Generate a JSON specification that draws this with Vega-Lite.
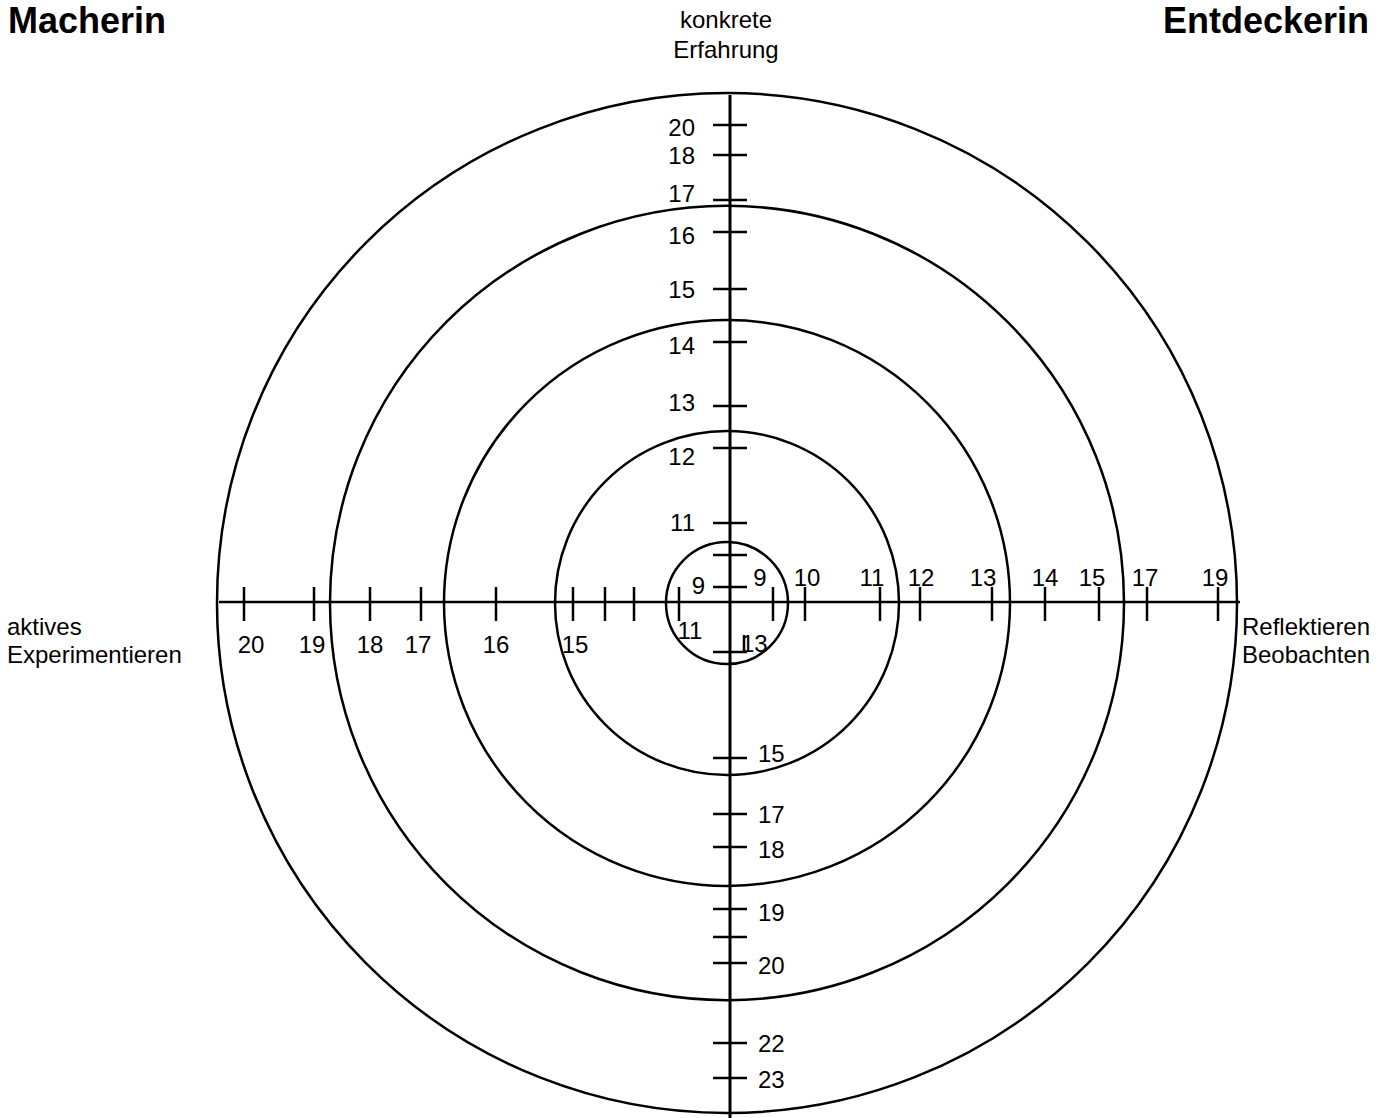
{
  "$schema": "https://vega.github.io/schema/vega-lite/v6.json",
  "width": 1388,
  "height": 1118,
  "autosize": {"type": "none"},
  "padding": 0,
  "background": "white",
  "config": {
    "view": {"stroke": null},
    "text": {"font": "Liberation Sans", "fontSize": 24, "color": "black"}
  },
  "datasets": {
    "rings": [
      {"ring": 1, "radius": 510},
      {"ring": 2, "radius": 397},
      {"ring": 3, "radius": 283},
      {"ring": 4, "radius": 172},
      {"ring": 5, "radius": 61}
    ],
    "ticks": [
      {"side": "top", "pos": 477, "label": "20", "lpos": 473.5},
      {"side": "top", "pos": 447, "label": "18", "lpos": 445.5},
      {"side": "top", "pos": 402, "label": "17", "lpos": 407.5},
      {"side": "top", "pos": 370, "label": "16", "lpos": 365.5},
      {"side": "top", "pos": 313, "label": "15", "lpos": 311.5},
      {"side": "top", "pos": 260, "label": "14", "lpos": 255.5},
      {"side": "top", "pos": 196, "label": "13", "lpos": 198.5},
      {"side": "top", "pos": 154, "label": "12", "lpos": 144.5},
      {"side": "top", "pos": 79, "label": "11", "lpos": 78.5},
      {"side": "top", "pos": 47, "label": ""},
      {"side": "top", "pos": 15, "label": "9", "lpos": 15.5},
      {"side": "bottom", "pos": -50, "label": "13", "lpos": -42.5},
      {"side": "bottom", "pos": -156, "label": "15", "lpos": -152.5},
      {"side": "bottom", "pos": -212, "label": "17", "lpos": -213.5},
      {"side": "bottom", "pos": -245, "label": "18", "lpos": -248.5},
      {"side": "bottom", "pos": -307, "label": "19", "lpos": -311.5},
      {"side": "bottom", "pos": -335, "label": ""},
      {"side": "bottom", "pos": -361, "label": "20", "lpos": -364.5},
      {"side": "bottom", "pos": -441, "label": "22", "lpos": -442.5},
      {"side": "bottom", "pos": -476, "label": "23", "lpos": -478.5},
      {"side": "left", "pos": -486, "label": "20", "lpos": -479},
      {"side": "left", "pos": -416, "label": "19", "lpos": -418},
      {"side": "left", "pos": -360, "label": "18", "lpos": -360},
      {"side": "left", "pos": -309, "label": "17", "lpos": -312},
      {"side": "left", "pos": -234, "label": "16", "lpos": -234},
      {"side": "left", "pos": -157, "label": "15", "lpos": -155},
      {"side": "left", "pos": -125, "label": ""},
      {"side": "left", "pos": -96, "label": ""},
      {"side": "left", "pos": -51, "label": "11", "lpos": -40},
      {"side": "right", "pos": 43, "label": "9", "lpos": 30},
      {"side": "right", "pos": 75, "label": "10", "lpos": 77},
      {"side": "right", "pos": 150, "label": "11", "lpos": 142},
      {"side": "right", "pos": 190, "label": "12", "lpos": 191},
      {"side": "right", "pos": 262, "label": "13", "lpos": 253},
      {"side": "right", "pos": 315, "label": "14", "lpos": 315},
      {"side": "right", "pos": 369, "label": "15", "lpos": 362},
      {"side": "right", "pos": 417, "label": "17", "lpos": 415},
      {"side": "right", "pos": 488, "label": "19", "lpos": 485}
    ]
  },
  "layer": [
    {
      "data": {"name": "rings"},
      "mark": {"type": "point", "shape": "circle", "filled": false, "color": "black", "stroke": "black", "strokeWidth": 2.5, "opacity": 1},
      "encoding": {
        "x": {"datum": -3, "type": "quantitative", "scale": {"domain": [-730, 658], "nice": false, "zero": false}, "axis": null},
        "y": {"datum": -1, "type": "quantitative", "scale": {"domain": [-516, 602], "nice": false, "zero": false}, "axis": null},
        "size": {"field": "radius", "type": "quantitative", "scale": {"type": "pow", "exponent": 2, "domain": [0, 510], "range": [0, 1040400]}, "legend": null}
      }
    },
    {
      "data": {"values": [{"axis": "vertical"}]},
      "mark": {"type": "rule", "color": "black", "strokeWidth": 3},
      "encoding": {
        "x": {"datum": 0, "type": "quantitative", "scale": {"domain": [-730, 658], "nice": false, "zero": false}, "axis": null},
        "y": {"datum": 507, "type": "quantitative", "scale": {"domain": [-516, 602], "nice": false, "zero": false}, "axis": null},
        "y2": {"datum": -516}
      }
    },
    {
      "data": {"values": [{"axis": "horizontal"}]},
      "mark": {"type": "rule", "color": "black", "strokeWidth": 2.5},
      "encoding": {
        "x": {"datum": -511, "type": "quantitative", "scale": {"domain": [-730, 658], "nice": false, "zero": false}, "axis": null},
        "x2": {"datum": 510},
        "y": {"datum": 0, "type": "quantitative", "scale": {"domain": [-516, 602], "nice": false, "zero": false}, "axis": null}
      }
    },
    {
      "data": {"name": "ticks"},
      "transform": [{"filter": "datum.side === 'top' || datum.side === 'bottom'"}],
      "mark": {"type": "tick", "orient": "horizontal", "size": 34, "thickness": 2.5, "color": "black", "opacity": 1},
      "encoding": {
        "x": {"datum": 0, "type": "quantitative", "scale": {"domain": [-730, 658], "nice": false, "zero": false}, "axis": null},
        "y": {"field": "pos", "type": "quantitative", "scale": {"domain": [-516, 602], "nice": false, "zero": false}, "axis": null}
      }
    },
    {
      "data": {"name": "ticks"},
      "transform": [{"filter": "datum.side === 'left' || datum.side === 'right'"}],
      "mark": {"type": "tick", "orient": "vertical", "size": 34, "thickness": 2.5, "color": "black", "opacity": 1},
      "encoding": {
        "x": {"field": "pos", "type": "quantitative", "scale": {"domain": [-730, 658], "nice": false, "zero": false}, "axis": null},
        "y": {"datum": -2, "type": "quantitative", "scale": {"domain": [-516, 602], "nice": false, "zero": false}, "axis": null}
      }
    },
    {
      "data": {"name": "ticks"},
      "transform": [{"filter": "datum.side === 'bottom' && datum.label === '13'"}],
      "mark": {"type": "tick", "orient": "vertical", "size": 17, "thickness": 2.5, "color": "black", "opacity": 1, "yOffset": -8.5},
      "encoding": {
        "x": {"datum": 14, "type": "quantitative", "scale": {"domain": [-730, 658], "nice": false, "zero": false}, "axis": null},
        "y": {"field": "pos", "type": "quantitative", "scale": {"domain": [-516, 602], "nice": false, "zero": false}, "axis": null}
      }
    },
    {
      "data": {"name": "ticks"},
      "transform": [{"filter": "datum.side === 'top' && datum.label !== '' && datum.label !== '9'"}],
      "mark": {"type": "text", "align": "right", "baseline": "middle"},
      "encoding": {
        "x": {"datum": -35, "type": "quantitative", "scale": {"domain": [-730, 658], "nice": false, "zero": false}, "axis": null},
        "y": {"field": "lpos", "type": "quantitative", "scale": {"domain": [-516, 602], "nice": false, "zero": false}, "axis": null},
        "text": {"field": "label", "type": "nominal"}
      }
    },
    {
      "data": {"name": "ticks"},
      "transform": [{"filter": "datum.side === 'top' && datum.label === '9'"}],
      "mark": {"type": "text", "align": "right", "baseline": "middle"},
      "encoding": {
        "x": {"datum": -25, "type": "quantitative", "scale": {"domain": [-730, 658], "nice": false, "zero": false}, "axis": null},
        "y": {"field": "lpos", "type": "quantitative", "scale": {"domain": [-516, 602], "nice": false, "zero": false}, "axis": null},
        "text": {"field": "label", "type": "nominal"}
      }
    },
    {
      "data": {"name": "ticks"},
      "transform": [{"filter": "datum.side === 'bottom' && datum.label !== '' && datum.label !== '13'"}],
      "mark": {"type": "text", "align": "left", "baseline": "middle"},
      "encoding": {
        "x": {"datum": 28, "type": "quantitative", "scale": {"domain": [-730, 658], "nice": false, "zero": false}, "axis": null},
        "y": {"field": "lpos", "type": "quantitative", "scale": {"domain": [-516, 602], "nice": false, "zero": false}, "axis": null},
        "text": {"field": "label", "type": "nominal"}
      }
    },
    {
      "data": {"name": "ticks"},
      "transform": [{"filter": "datum.side === 'bottom' && datum.label === '13'"}],
      "mark": {"type": "text", "align": "left", "baseline": "middle"},
      "encoding": {
        "x": {"datum": 11, "type": "quantitative", "scale": {"domain": [-730, 658], "nice": false, "zero": false}, "axis": null},
        "y": {"field": "lpos", "type": "quantitative", "scale": {"domain": [-516, 602], "nice": false, "zero": false}, "axis": null},
        "text": {"field": "label", "type": "nominal"}
      }
    },
    {
      "data": {"name": "ticks"},
      "transform": [{"filter": "datum.side === 'left' && datum.label !== '' && datum.label !== '11'"}],
      "mark": {"type": "text", "align": "center", "baseline": "middle"},
      "encoding": {
        "x": {"field": "lpos", "type": "quantitative", "scale": {"domain": [-730, 658], "nice": false, "zero": false}, "axis": null},
        "y": {"datum": -44, "type": "quantitative", "scale": {"domain": [-516, 602], "nice": false, "zero": false}, "axis": null},
        "text": {"field": "label", "type": "nominal"}
      }
    },
    {
      "data": {"name": "ticks"},
      "transform": [{"filter": "datum.side === 'left' && datum.label === '11'"}],
      "mark": {"type": "text", "align": "center", "baseline": "middle"},
      "encoding": {
        "x": {"field": "lpos", "type": "quantitative", "scale": {"domain": [-730, 658], "nice": false, "zero": false}, "axis": null},
        "y": {"datum": -29.5, "type": "quantitative", "scale": {"domain": [-516, 602], "nice": false, "zero": false}, "axis": null},
        "text": {"field": "label", "type": "nominal"}
      }
    },
    {
      "data": {"name": "ticks"},
      "transform": [{"filter": "datum.side === 'right'"}],
      "mark": {"type": "text", "align": "center", "baseline": "middle"},
      "encoding": {
        "x": {"field": "lpos", "type": "quantitative", "scale": {"domain": [-730, 658], "nice": false, "zero": false}, "axis": null},
        "y": {"datum": 23.5, "type": "quantitative", "scale": {"domain": [-516, 602], "nice": false, "zero": false}, "axis": null},
        "text": {"field": "label", "type": "nominal"}
      }
    },
    {
      "data": {"values": [{"t": "Macherin"}]},
      "mark": {"type": "text", "align": "left", "baseline": "alphabetic", "fontSize": 36, "fontWeight": "bold"},
      "encoding": {
        "x": {"datum": -722, "type": "quantitative", "scale": {"domain": [-730, 658], "nice": false, "zero": false}, "axis": null},
        "y": {"datum": 569, "type": "quantitative", "scale": {"domain": [-516, 602], "nice": false, "zero": false}, "axis": null},
        "text": {"field": "t", "type": "nominal"}
      }
    },
    {
      "data": {"values": [{"t": "Entdeckerin"}]},
      "mark": {"type": "text", "align": "right", "baseline": "alphabetic", "fontSize": 36, "fontWeight": "bold"},
      "encoding": {
        "x": {"datum": 639, "type": "quantitative", "scale": {"domain": [-730, 658], "nice": false, "zero": false}, "axis": null},
        "y": {"datum": 569, "type": "quantitative", "scale": {"domain": [-516, 602], "nice": false, "zero": false}, "axis": null},
        "text": {"field": "t", "type": "nominal"}
      }
    },
    {
      "data": {"values": [{"t": "konkrete\nErfahrung"}]},
      "mark": {"type": "text", "align": "center", "baseline": "alphabetic", "lineBreak": "\n", "lineHeight": 30},
      "encoding": {
        "x": {"datum": -4, "type": "quantitative", "scale": {"domain": [-730, 658], "nice": false, "zero": false}, "axis": null},
        "y": {"datum": 574, "type": "quantitative", "scale": {"domain": [-516, 602], "nice": false, "zero": false}, "axis": null},
        "text": {"field": "t", "type": "nominal"}
      }
    },
    {
      "data": {"values": [{"t": "aktives\nExperimentieren"}]},
      "mark": {"type": "text", "align": "left", "baseline": "alphabetic", "lineBreak": "\n", "lineHeight": 28},
      "encoding": {
        "x": {"datum": -723, "type": "quantitative", "scale": {"domain": [-730, 658], "nice": false, "zero": false}, "axis": null},
        "y": {"datum": -33, "type": "quantitative", "scale": {"domain": [-516, 602], "nice": false, "zero": false}, "axis": null},
        "text": {"field": "t", "type": "nominal"}
      }
    },
    {
      "data": {"values": [{"t": "Reflektieren\nBeobachten"}]},
      "mark": {"type": "text", "align": "left", "baseline": "alphabetic", "lineBreak": "\n", "lineHeight": 28},
      "encoding": {
        "x": {"datum": 512, "type": "quantitative", "scale": {"domain": [-730, 658], "nice": false, "zero": false}, "axis": null},
        "y": {"datum": -33, "type": "quantitative", "scale": {"domain": [-516, 602], "nice": false, "zero": false}, "axis": null},
        "text": {"field": "t", "type": "nominal"}
      }
    }
  ]
}
